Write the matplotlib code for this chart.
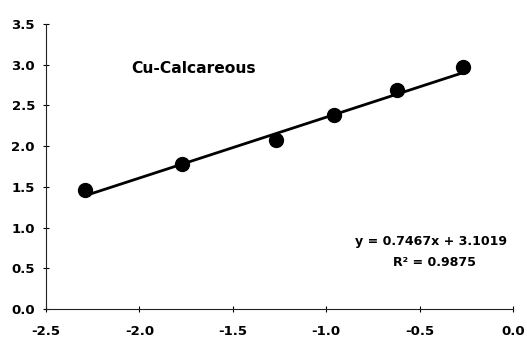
import matplotlib
matplotlib.use("Agg")
import matplotlib.pyplot as plt
import numpy as np

# Measured log-transformed values
x_vals = [-2.29, -1.77, -1.27, -0.96, -0.62, -0.27]
y_vals = [1.46, 1.78, 2.07, 2.38, 2.69, 2.97]

# Linear trend reported for the series
slope = 0.7467
intercept = 3.1019
r_squared = 0.9875

x_ticks = [-2.5, -2.0, -1.5, -1.0, -0.5, 0.0]
y_ticks = [0.0, 0.5, 1.0, 1.5, 2.0, 2.5, 3.0, 3.5]

plt.rcParams['font.family'] = ['DejaVu Sans']

fig = plt.figure(figsize=(5.27, 3.40), dpi=100)
ax = fig.add_axes([0.0873, 0.0912, 0.8861, 0.8382])

ax.plot(x_vals, y_vals, 'o', color='black', markersize=10, zorder=3)

fit_x = np.array([min(x_vals), max(x_vals)])
fit_y = slope * fit_x + intercept
ax.plot(fit_x, fit_y, '-', color='black', linewidth=2.0, zorder=2)

ax.set_xlim(-2.5, 0.0)
ax.set_ylim(0.0, 3.5)
ax.set_xticks(x_ticks)
ax.set_yticks(y_ticks)
fs = 9.5
ax.set_xticklabels([f"{v:.1f}" for v in x_ticks], fontweight='bold', fontsize=fs)
ax.set_yticklabels([f"{v:.1f}" for v in y_ticks], fontweight='bold', fontsize=fs)
ax.tick_params(axis='x', direction='inout', length=4, width=0.8, pad=9.5)
ax.tick_params(axis='y', direction='inout', length=4, width=0.8, pad=6)

for side in ('top', 'right'):
    ax.spines[side].set_visible(False)
for side in ('left', 'bottom'):
    ax.spines[side].set_linewidth(0.8)
    ax.spines[side].set_color('#222222')

ax.text(-1.708, 2.90, "Cu-Calcareous", fontsize=11.2, fontweight='bold',
        ha='center', va='baseline')
ax.text(-0.439, 0.786, f"y = {slope}x + {intercept}", fontsize=9.1,
        fontweight='bold', ha='center', va='baseline')
ax.text(-0.423, 0.528, f"R² = {r_squared}", fontsize=9.1,
        fontweight='bold', ha='center', va='baseline')

fig.savefig("out.png", dpi=100)
